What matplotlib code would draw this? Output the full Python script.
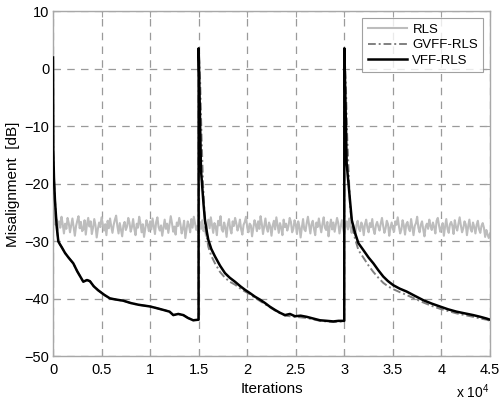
import numpy as np
import matplotlib.pyplot as plt
from matplotlib.ticker import FuncFormatter

plt.rcParams['font.family'] = ['Liberation Sans', 'DejaVu Sans']
plt.rcParams['mathtext.fontset'] = 'custom'
plt.rcParams['mathtext.rm'] = 'Liberation Sans'

# RLS misalignment, one value every 125 iterations
rls_step = 125
rls_db = [
    -24.0, -25.8, -27.1, -26.2, -28.0, -26.5, -27.6, -25.7, -27.0, -28.6,
    -26.9, -27.8, -25.9, -26.8, -28.4, -27.2, -26.0, -27.5, -29.0, -27.3,
    -26.4, -25.6, -27.7, -26.6, -28.2, -27.9, -26.3, -28.8, -27.0, -25.9,
    -27.4, -26.5, -28.7, -27.6, -26.1, -27.2, -29.3, -27.8, -26.7, -27.5,
    -25.8, -26.9, -28.1, -27.0, -28.9, -26.4, -27.7, -26.0, -27.4, -28.5,
    -27.1, -26.2, -25.5, -27.3, -28.6, -26.8, -27.9, -29.1, -27.2, -26.6,
    -28.0, -27.4, -25.9, -26.7, -28.3, -27.5, -26.1, -27.8, -28.9, -26.9,
    -27.6, -25.7, -26.8, -28.4, -27.0, -29.2, -27.7, -26.3, -27.1, -28.2,
    -26.5, -27.9, -26.0, -27.3, -28.7, -26.6, -25.8, -27.5, -28.1, -27.2,
    -29.0, -27.6, -26.2, -27.8, -26.9, -28.5, -27.1, -25.6, -26.8, -28.3,
    -27.4, -28.8, -26.7, -27.3, -25.9, -27.0, -28.6, -27.7, -26.4, -29.4,
    -27.9, -26.5, -27.2, -28.4, -26.1, -27.6, -25.7, -26.9, -28.0, -27.3,
    -28.7, -26.6, -27.8, -26.3, -28.2, -27.5, -29.0, -27.0, -26.2, -27.7,
    -25.8, -27.1, -28.5, -26.8, -27.4, -28.9, -26.4, -27.2, -25.6, -27.9,
    -28.3, -26.7, -27.6, -29.2, -27.0, -26.1, -27.8, -28.6, -26.5, -27.3,
    -25.9, -26.8, -28.1, -27.4, -26.2, -27.9, -28.8, -27.1, -26.6, -25.7,
    -27.5, -28.4, -26.9, -27.2, -29.1, -27.7, -26.3, -27.0, -28.2, -26.5,
    -27.8, -25.6, -26.9, -28.7, -27.3, -26.0, -27.6, -28.3, -26.7, -27.4,
    -29.0, -27.2, -26.4, -27.9, -25.8, -27.1, -28.5, -26.8, -27.6, -28.9,
    -26.2, -27.5, -26.9, -28.1, -27.3, -25.9, -26.6, -28.4, -27.8, -26.3,
    -27.0, -28.7, -26.5, -27.4, -29.3, -27.6, -26.1, -27.9, -28.2, -26.8,
    -25.7, -27.2, -28.6, -27.0, -26.4, -27.8, -28.9, -26.7, -27.5, -26.0,
    -27.3, -28.4, -26.9, -25.8, -27.6, -28.0, -26.6, -29.1, -27.4, -26.2,
    -27.9, -26.7, -28.3, -27.1, -25.9, -26.8, -28.6, -27.5, -26.3, -27.7,
    -28.8, -27.2, -26.5, -27.9, -26.0, -27.4, -28.5, -26.9, -27.6, -29.0,
    -27.1, -26.4, -27.8, -28.2, -26.7, -27.3, -28.9, -27.0, -26.2, -27.6,
    -28.4, -26.8, -27.5, -26.1, -27.9, -28.7, -27.2, -26.6, -27.4, -28.1,
    -26.9, -25.9, -27.3, -28.5, -27.7, -26.4, -27.0, -29.0, -27.6, -26.7,
    -27.8, -28.3, -26.5, -27.1, -25.8, -27.4, -28.6, -27.9, -26.3, -27.2,
    -28.8, -27.0, -26.6, -27.7, -28.2, -26.1, -27.5, -28.9, -27.3, -26.8,
    -25.7, -27.6, -28.4, -27.1, -26.5, -27.9, -29.1, -27.4, -26.9, -27.8,
    -26.2, -27.3, -28.0, -26.7, -27.5, -28.6, -26.4, -25.9, -27.2, -28.3,
    -27.6, -26.8, -29.0, -27.4, -26.1, -27.8, -28.5, -27.0, -26.6, -27.3,
    -28.7, -26.3, -27.5, -28.1, -26.9, -25.8, -27.2, -28.4, -27.7, -26.5,
    -27.0, -28.9, -27.4, -26.2, -27.8, -28.3, -26.7, -27.5, -28.6, -27.1,
    -26.4, -27.9, -28.5, -27.3, -26.8, -27.6, -29.2, -28.0, -28.8, -29.4,
    -28.6,
]

# VFF-RLS
vff_it = [0, 30, 100, 200, 380, 550, 720, 900, 1240, 1600, 2090, 2500, 3120,
          3500, 3800, 4200, 4660, 5300, 5870, 6500, 7240, 8000, 8800, 9990,
          10700, 11360, 12000, 12390, 12900, 13420, 13900, 14440, 14990,
          15000, 15120, 15240, 15500, 15650, 15860, 15990, 16300, 16680,
          17200, 17710, 18200, 18740, 19300, 19770, 20300, 20800, 21300,
          21830, 22300, 22860, 23375, 23890, 24400, 24920, 25500, 26120,
          26800, 27490, 28200, 28860, 29400, 29990,
          30000, 30120, 30240, 30580, 30770, 31100, 31450, 31960, 32500,
          32990, 33500, 34010, 34500, 35040, 35700, 36410, 37200, 38120,
          39000, 39840, 40700, 41550, 42400, 43270, 44000, 44650, 45000]
vff_db = [2.0, -14.0, -19.0, -22.8, -27.4, -30.0, -30.5, -31.0, -32.0, -32.8,
          -33.8, -35.2, -37.0, -36.7, -36.9, -37.8, -38.5, -39.3, -39.9,
          -40.1, -40.3, -40.7, -41.0, -41.3, -41.6, -41.9, -42.2, -42.8,
          -42.6, -42.8, -43.3, -43.7, -43.6,
          3.6, -7.0, -17.6, -23.5, -26.3, -28.5, -29.7, -31.3, -32.6, -34.2,
          -35.5, -36.3, -37.0, -37.8, -38.4, -39.0, -39.6, -40.1, -40.7,
          -41.3, -41.9, -42.4, -42.8, -42.6, -43.0, -42.9, -43.1, -43.4,
          -43.7, -43.8, -43.9, -43.8, -43.8,
          3.6, -6.0, -16.4, -22.8, -26.3, -28.5, -30.3, -31.5, -32.8, -33.8,
          -35.0, -36.1, -36.9, -37.6, -38.2, -38.7, -39.4, -40.2, -40.8,
          -41.3, -41.8, -42.2, -42.5, -42.8, -43.1, -43.4, -43.6]

# GVFF-RLS
gvff_it = [0, 30, 100, 200, 380, 550, 720, 900, 1240, 1600, 2090, 2500, 3120,
           3500, 3800, 4200, 4660, 5300, 5870, 6500, 7240, 8000, 8800, 9990,
           10700, 11360, 12000, 12390, 12900, 13420, 13900, 14440, 14990,
           15000, 15150, 15300, 15450, 15650, 15990, 16300, 16680, 17200,
           17710, 18200, 18740, 19300, 19770, 20300, 20800, 21830, 22860,
           23890, 24920, 26120, 27490, 28860, 29990,
           30000, 30150, 30300, 30580, 30770, 31100, 31450, 31960, 32500,
           32990, 33500, 34010, 34500, 35040, 35700, 36410, 37200, 38120,
           39000, 39840, 40700, 41550, 42400, 43270, 44000, 44650, 45000]
gvff_db = [2.0, -14.0, -19.0, -22.8, -27.4, -30.0, -30.5, -31.0, -32.0, -32.8,
           -33.8, -35.2, -37.0, -36.7, -36.9, -37.8, -38.5, -39.3, -39.9,
           -40.1, -40.3, -40.7, -41.0, -41.3, -41.6, -41.9, -42.2, -42.8,
           -42.6, -42.8, -43.3, -43.7, -43.6,
           3.6, -2.0, -12.0, -20.0, -26.8, -30.9, -32.5, -33.8, -35.3, -36.3,
           -37.0, -37.5, -38.2, -38.7, -39.2, -39.8, -40.9, -42.0, -42.9,
           -43.1, -43.3, -43.8, -44.0, -43.9,
           3.6, -2.5, -12.0, -23.5, -27.0, -29.5, -31.5, -32.8, -34.2, -35.3,
           -36.3, -37.2, -37.8, -38.3, -38.8, -39.3, -39.9, -40.6, -41.2,
           -41.7, -42.1, -42.5, -42.8, -43.1, -43.4, -43.6, -43.8]

x_ticks = [0, 5000, 10000, 15000, 20000, 25000, 30000, 35000, 40000, 45000]
y_ticks = [10, 0, -10, -20, -30, -40, -50]

fig = plt.figure(figsize=(5.0, 4.03), dpi=100)
ax = fig.add_axes([0.106, 0.1154, 0.874, 0.8561])

rls_it = np.arange(len(rls_db)) * rls_step
ax.plot(rls_it, rls_db, color='#bdbdbd', lw=1.5, label='RLS', zorder=2)
ax.plot(gvff_it, gvff_db, color='#808080', lw=1.4, ls=(0, (4, 1.5, 1, 1.5)),
        label='GVFF-RLS', zorder=3)
ax.plot(vff_it, vff_db, color='black', lw=1.8, label='VFF-RLS', zorder=4)

ax.set_xlim(0, 45000)
ax.set_ylim(-50, 10)
ax.set_xticks(x_ticks)
ax.set_yticks(y_ticks)
ax.xaxis.set_major_formatter(FuncFormatter(lambda v, p: f"{v / 1e4:g}"))
ax.tick_params(direction='in', length=4, colors='#a0a0a0', labelcolor='black',
               labelsize=10.5, top=True, right=True)
ax.tick_params(axis='x', pad=5)
ax.tick_params(axis='y', pad=2.5)
ax.grid(True, color='#9a9a9a', ls=(0, (6, 5)), lw=0.9)
for s in ax.spines.values():
    s.set_color('#a8a8a8')
    s.set_linewidth(1.0)

ax.set_xlabel('Iterations', fontsize=11, labelpad=3)
ax.set_ylabel('Misalignment  [dB]', fontsize=11, labelpad=3)
fig.text(0.978, 0.004, r'x 10$^{4}$', ha='right', va='bottom', fontsize=10)

leg = ax.legend(loc='upper right', fontsize=9.5, frameon=True, fancybox=False,
                borderaxespad=0.5, handlelength=3.0, handletextpad=0.4,
                labelspacing=0.25, borderpad=0.4)
leg.get_frame().set_edgecolor('#8a8a8a')
leg.get_frame().set_linewidth(0.8)

fig.savefig('out.png', dpi=100)
